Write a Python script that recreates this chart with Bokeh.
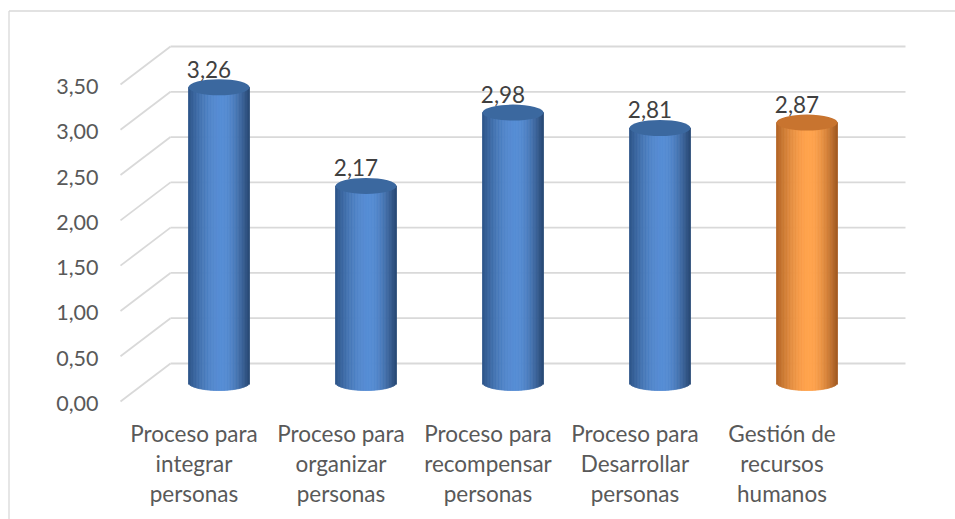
from bokeh.plotting import figure
from bokeh.models import Range1d
from bokeh.embed import file_html
from bokeh.resources import INLINE
from bokeh.core.properties import value
import math

# ---- data ----
categories = ["Proceso para\nintegrar\npersonas",
              "Proceso para\norganizar\npersonas",
              "Proceso para\nrecompensar\npersonas",
              "Proceso para\nDesarrollar\npersonas",
              "Gestión de\nrecursos\nhumanos"]
values = [3.26, 2.17, 2.98, 2.81, 2.87]
value_labels = ["3,26", "2,17", "2,98", "2,81", "2,87"]
y_ticks = [0.0, 0.5, 1.0, 1.5, 2.0, 2.5, 3.0, 3.5]
y_tick_labels = ["0,00", "0,50", "1,00", "1,50", "2,00", "2,50", "3,00", "3,50"]
highlight = [False, False, False, False, True]

# ---- geometry (pixel scale of the pseudo-3D chart) ----
W, H = 955, 519
OX, OY = 0, 0           # page offset of the figure
SX = 147.0      # px per category
SY = 90.57      # px per value unit
X0, Y0 = 170.0, 363.0   # page px of back-wall origin
DX = 50.0 / SX  # depth offset in x units
DY = 38.0 / SY  # depth offset in value units

def px_x(sx):
    return (sx - X0) / SX

def px_y(sy):
    return (Y0 - sy) / SY

p = figure(width=W, height=H, output_backend="svg", toolbar_location=None,
           x_range=Range1d(px_x(OX), px_x(OX + W)), y_range=Range1d(px_y(OY + H), px_y(OY)),
           min_border=0, min_border_left=0, min_border_right=0,
           min_border_top=0, min_border_bottom=0)
p.axis.visible = False
p.grid.visible = False
p.outline_line_color = None
p.background_fill_color = "white"
p.border_fill_color = "white"

FONT = "Lato"
FS = 22.5

# chart border (left and top)
bx = px_x(8.5)
by = px_y(10.5)
p.segment(x0=[bx, bx], y0=[by, by], x1=[bx, px_x(OX + W + 5)], y1=[px_y(OY + H + 5), by],
          line_color="#d9d9d9", line_width=1.3)

# gridlines: back wall + left diagonal
n_cat = len(categories)
gx0 = [0.0] * len(y_ticks) + [0.0] * len(y_ticks)
gy0 = list(y_ticks) + list(y_ticks)
gx1 = [float(n_cat)] * len(y_ticks) + [-DX] * len(y_ticks)
gy1 = list(y_ticks) + [t - DY for t in y_ticks]
p.segment(x0=gx0, y0=gy0, x1=gx1, y1=gy1, line_color="#d9d9d9", line_width=1.8)

# y tick labels at the front plane
p.text(x=[px_x(98)] * len(y_ticks), y=[t - DY - 2 / SY for t in y_ticks], text=y_tick_labels,
       text_font=value(FONT), text_font_size="21.5px", text_color="#595959",
       text_align="right", text_baseline="middle")

# cylinders
HALF_W = 30.5 / SX
RY = 8.0 / SY
NSTRIP = 40

def shade(c_edge_l, c_mid, c_edge_r, u):
    peak = 0.1
    if u < peak:
        t = (u + 1) / (peak + 1)
        a, b = c_edge_l, c_mid
    else:
        t = 1 - (u - peak) / (1 - peak)
        a, b = c_edge_r, c_mid
    t = math.sin(t * math.pi / 2)
    r = [int(round(a[k] + (b[k] - a[k]) * t)) for k in range(3)]
    return "#%02x%02x%02x" % tuple(r)

BLUE = ((45, 84, 135), (86, 141, 212), (40, 72, 115))
ORANGE = ((178, 100, 38), (255, 163, 77), (160, 88, 32))
BLUE_TOP = "#3b689f"
ORANGE_TOP = "#c8742f"

sl, sr, sb, st, sc = [], [], [], [], []
tops_x, tops_y, tops_c = [], [], []
for i, (v, hl) in enumerate(zip(values, highlight)):
    cx = i + 0.5 - 0.5 * DX
    base = -0.5 * DY
    top = v - 0.5 * DY
    cols = ORANGE if hl else BLUE
    for k in range(NSTRIP):
        u0 = -1 + 2 * k / NSTRIP
        u1 = -1 + 2 * (k + 1) / NSTRIP
        um = (u0 + u1) / 2
        sl.append(cx + u0 * HALF_W)
        sr.append(cx + u1 * HALF_W)
        sb.append(base - RY * math.sqrt(max(0.0, 1 - um * um)))
        st.append(top)
        sc.append(shade(cols[0], cols[1], cols[2], um))
    tops_x.append(cx)
    tops_y.append(top)
    tops_c.append(ORANGE_TOP if hl else BLUE_TOP)

p.quad(left=sl, right=sr, bottom=sb, top=st, fill_color=sc, line_color=sc, line_width=0.8)
p.ellipse(x=tops_x, y=tops_y, width=2 * HALF_W, height=2 * RY,
          fill_color=tops_c, line_color=None)

# data labels
p.text(x=[tx - 10 / SX for tx in tops_x], y=[ty + 18 / SY for ty in tops_y], text=value_labels,
       text_font=value(FONT), text_font_size=f"{FS}px", text_color="#404040",
       text_align="center", text_baseline="middle")

# category labels at the front plane (block centred on the middle line)
p.text(x=[i + 0.5 - DX for i in range(n_cat)], y=[px_y(463)] * n_cat, text=categories,
       text_font=value(FONT), text_font_size=f"{FS}px", text_color="#595959",
       text_align="center", text_baseline="middle", text_line_height=30 / (1.2 * FS))

open("out.html", "w").write(file_html(p, INLINE))
